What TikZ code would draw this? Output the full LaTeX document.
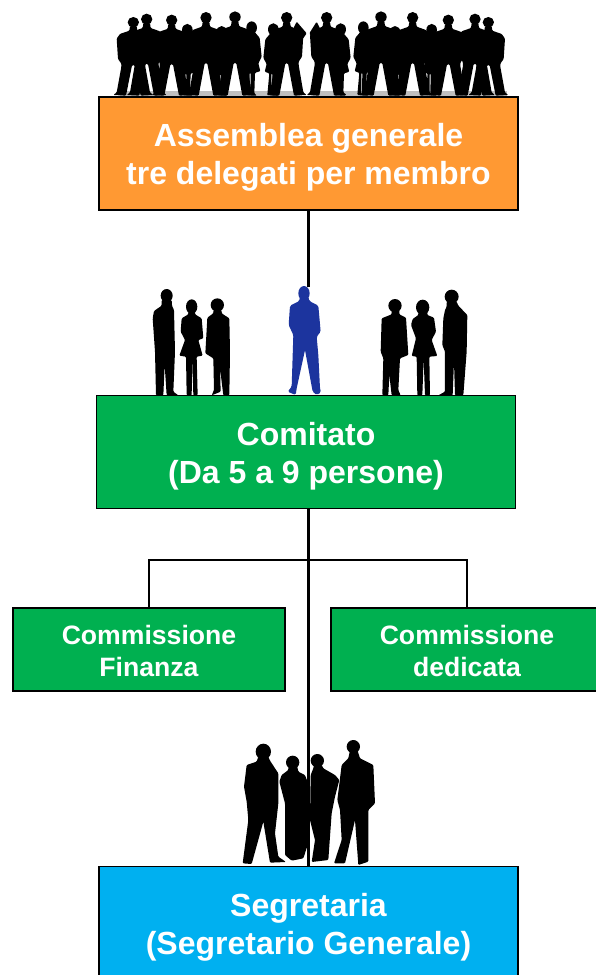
\documentclass[tikz,border=0pt]{standalone}
\usepackage{fontspec}
\setmainfont{Liberation Sans}
\definecolor{orangebox}{HTML}{FF9933}
\definecolor{greenbox}{HTML}{00B050}
\definecolor{bluebox}{HTML}{00B0F0}
\definecolor{chiefblue}{HTML}{1C349E}
\newcommand{\liftbig}{\rule{0pt}{31pt}}
\newcommand{\liftsmall}{\rule{0pt}{21.4pt}}
\tikzset{
 bigbox/.style={draw=black,line width=1.6pt,minimum width=419pt,minimum height=113pt,inner sep=0pt,align=center,text=white,font=\bfseries\fontsize{32}{38}\selectfont},
 smallbox/.style={draw=black,line width=1.6pt,fill=greenbox,minimum width=272pt,minimum height=83pt,inner sep=0pt,align=center,text=white,font=\bfseries\fontsize{26.6}{32}\selectfont},
 mainline/.style={line width=3pt,black},
 branchline/.style={line width=1.5pt,black},
 shadow/.style={fill=black,draw=none,rounded corners=1pt},
 crowdman/.pic={
  \fill[black] (0,-232) circle (17);
  \fill[black,rounded corners=1pt] (-10,-220)--(10,-220)--(12,-205)--(40,-195)--(50,-180)--(46,-115)--(36,-100)--(36,-90)--(50,-8)--(60,0)--(22,2)--(4,-95)--(-4,-95)--(-22,2)--(-60,0)--(-50,-8)--(-36,-90)--(-36,-100)--(-46,-115)--(-50,-180)--(-40,-195)--(-12,-205)--cycle;},
 crowdwoman/.pic={
  \fill[black] (0,-212) ellipse (16 and 20);
  \fill[black,rounded corners=1pt] (-8,-200)--(8,-200)--(24,-180)--(30,-120)--(20,-100)--(26,-75)--(10,-70)--(8,-5)--(16,2)--(-4,2)--(-3,-70)--(-6,-70)--(-6,-5)--(2,2)--(-18,0)--(-12,-70)--(-26,-75)--(-20,-100)--(-30,-120)--(-24,-180)--cycle;}
}
\begin{document}
\begin{tikzpicture}[x=1pt,y=-1pt]
\useasboundingbox (0,0) rectangle (596,975);
\fill[white] (0,0) rectangle (596,975);

% boxes
\node[bigbox,fill=orangebox] (assemblea) at (308.5,153.5) {\liftbig Assemblea generale\\tre delegati per membro};
\node[bigbox,fill=greenbox] (comitato) at (306,452) {\liftbig Comitato\\(Da 5 a 9 persone)};
\node[smallbox] (finanza) at (149,649.5) {\liftsmall Commissione\\Finanza};
\node[smallbox] (dedicata) at (467,649.5) {\liftsmall Commissione\\dedicata};
\node[bigbox,fill=bluebox] (segreteria) at (308.5,923) {\liftbig Segretaria\\(Segretario Generale)};

% gaps in the top border of the Comitato box
\fill[white] (144,393) rectangle (239,395);
\fill[white] (246,393) rectangle (362,395);
\fill[white] (372,393) rectangle (477,395);

% crowd above the Assemblea box
\begin{scope}[shift={(100,0)},scale=1/3]
 \fill[black!25] (60,272) rectangle (600,287);
 \fill[black!25] (640,272) rectangle (1220,287);
 \foreach \px/\tp/\kind in {100/50/crowdman,262/55/crowdwoman,365/62/crowdwoman,455/47/crowdwoman,520/53/crowdwoman,722/53/crowdwoman,790/47/crowdwoman,885/62/crowdwoman,995/55/crowdwoman,1165/50/crowdman,140/40/crowdman,215/43/crowdman,318/35/crowdman,405/33/crowdman,560/35/crowdman,680/35/crowdman,843/33/crowdman,938/35/crowdman,1045/43/crowdman,1125/40/crowdman}{
  \pgfmathsetmacro{\ys}{(285-\tp)/250}
  \pic[transform shape,yscale=\ys] at (\px,285) {\kind};
 }
 \fill[black,rounded corners=1pt] (590,65)--(620,100)--(592,140)--(582,130)--(598,100)--(580,85)--cycle;
 \fill[black,rounded corners=1pt] (650,65)--(628,100)--(655,140)--(665,130)--(645,100)--(660,85)--cycle;
\end{scope}

% committee figures
\begin{scope}[shift={(130,275)},scale=1/3]
 \fill[black] (110,62) ellipse (18 and 20);
 \fill[shadow] (95,75)--(125,75)--(126,92)--(132,105)--(135,230)--(130,350)--(145,361)--(110,361)--(104,270)--(100,361)--(78,361)--(75,230)--(68,130)--(72,108)--(95,92)--cycle;
 \fill[black] (185,95) ellipse (17 and 22);
 \fill[shadow] (175,110)--(195,110)--(195,118)--(215,130)--(220,190)--(205,195)--(218,242)--(200,245)--(203,361)--(190,361)--(187,250)--(185,361)--(170,361)--(168,245)--(148,242)--(165,195)--(152,170)--(155,130)--(175,118)--cycle;
 \fill[black] (262,90) circle (20);
 \fill[shadow] (250,105)--(275,105)--(275,115)--(298,130)--(300,230)--(298,361)--(280,361)--(270,280)--(272,350)--(245,361)--(252,345)--(250,250)--(226,235)--(232,128)--(250,115)--cycle;
 \fill[chiefblue] (522,55) ellipse (17 and 22);
 \fill[chiefblue,rounded corners=1.5pt] (510,65)--(535,65)--(538,78)--(565,92)--(572,170)--(560,185)--(565,240)--(570,340)--(573,352)--(560,360)--(548,350)--(525,225)--(500,340)--(497,360)--(473,350)--(485,335)--(490,180)--(476,150)--(480,92)--(508,78)--cycle;
 \fill[black] (795,92) circle (20);
 \fill[shadow] (785,105)--(808,105)--(808,118)--(828,128)--(835,240)--(810,250)--(805,345)--(812,361)--(785,361)--(778,300)--(775,361)--(757,361)--(760,250)--(752,230)--(755,130)--(785,118)--cycle;
 \fill[black] (878,97) ellipse (20 and 23);
 \fill[shadow] (865,110)--(892,110)--(892,120)--(912,128)--(918,170)--(905,195)--(922,243)--(898,245)--(900,361)--(885,361)--(881,250)--(877,361)--(862,361)--(860,245)--(845,243)--(858,190)--(843,150)--(848,132)--(865,120)--cycle;
 \fill[black] (965,65) circle (21);
 \fill[shadow] (950,80)--(980,80)--(985,92)--(1012,120)--(1010,230)--(1000,361)--(975,361)--(972,260)--(968,361)--(925,361)--(945,350)--(945,230)--(937,210)--(940,130)--(945,105)--(950,95)--cycle;
\end{scope}

% group above the Segretaria box
\begin{scope}[shift={(220,730)},scale=1/3]
 \fill[black] (130,65) ellipse (23 and 24);
 \fill[shadow] (115,80)--(145,80)--(150,92)--(175,130)--(175,220)--(165,310)--(175,380)--(198,396)--(150,398)--(130,275)--(95,402)--(68,400)--(85,270)--(80,215)--(72,170)--(80,105)--(110,95)--cycle;
 \fill[black] (218,97) circle (20);
 \fill[shadow] (205,110)--(232,110)--(235,125)--(255,135)--(268,170)--(270,220)--(268,330)--(250,385)--(215,392)--(195,375)--(195,220)--(178,155)--(185,135)--(205,120)--cycle;
 \fill[black] (292,92) circle (20);
 \fill[shadow] (282,105)--(305,105)--(310,115)--(345,135)--(358,150)--(345,200)--(335,250)--(325,390)--(275,396)--(285,330)--(270,270)--(272,135)--(280,115)--cycle;
 \fill[black] (400,50) circle (20);
 \fill[shadow] (390,60)--(412,60)--(420,85)--(460,105)--(465,220)--(445,240)--(445,395)--(415,405)--(405,270)--(375,400)--(342,400)--(365,330)--(360,240)--(352,210)--(365,105)--(385,85)--cycle;
\end{scope}

% connectors
\coordinate (chief) at (308,287);
\coordinate (branch) at (308,560);
\draw[mainline] (assemblea.south -| chief) -- (chief);
\draw[branchline] (finanza.north) |- (branch) -| (dedicata.north);
\draw[mainline] (comitato.south -| chief) -- (segreteria.north -| chief);
\end{tikzpicture}
\end{document}
